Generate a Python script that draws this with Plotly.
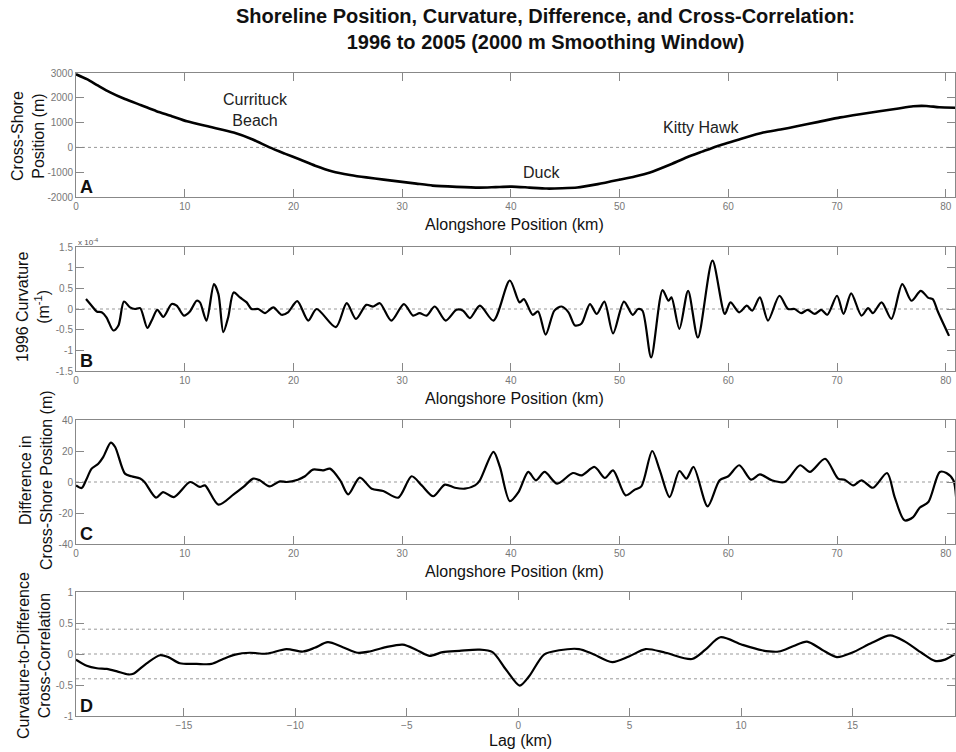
import plotly.graph_objects as go

# ---------------- data ----------------
# Panel A: cross-shore position (m) vs alongshore position (km)
a_km = [0, 1.0, 2.0, 3.1, 4.5, 6.0, 7.4, 8.8, 10.2, 12.3, 14.5, 16.2, 17.8, 19.2, 20.6, 22.0,
        23.6, 25.2, 26.7, 28.3, 29.8, 31.3, 32.8, 35.0, 37.1, 38.6, 40.1, 41.7, 43.3, 44.7,
        46.1, 48.0, 50.0, 51.4, 52.8, 54.5, 56.2, 57.6, 58.9, 61.0, 63.2, 64.8, 66.3, 68.3,
        70.3, 72.1, 73.9, 75.5, 77.0, 78.2, 79.4, 80.9]
a_pos = [2950, 2750, 2500, 2230, 1950, 1700, 1460, 1260, 1050, 830, 600, 330, 0, -250, -490, -740,
         -970, -1110, -1210, -1300, -1380, -1460, -1540, -1590, -1620, -1600, -1580, -1620, -1660, -1650,
         -1620, -1480, -1300, -1170, -1010, -720, -400, -170, 40, 320, 600, 720, 850, 1030,
         1210, 1340, 1460, 1560, 1660, 1670, 1620, 1600]

# Panel B: 1996 curvature (x 1e-4 m^-1)
b_km = [0.92, 1.44, 1.9, 2.36, 2.8, 3.43, 3.9, 4.41, 4.97, 5.43, 5.9, 6.56, 6.96, 7.48, 8.03, 8.8,
        9.26, 9.93, 10.48, 11.1, 11.4, 12.0, 12.69, 13.1, 13.55, 14.0, 14.5, 15.08, 15.7, 16.15,
        16.77, 17.38, 18.15, 18.9, 19.5, 20.35, 21.36, 22.13, 23.9, 24.9, 25.75, 26.7, 27.34,
        27.95, 29.0, 30.16, 31.0, 31.6, 32.25, 33.0, 34.0, 35.0, 35.6, 36.23, 37.15, 38.4,
        39.9, 40.8, 41.2, 42.0, 42.5, 43.2, 44.0, 44.66, 45.3, 45.9, 46.5, 47.27, 47.9, 48.6,
        49.4, 50.4, 51.2, 51.7, 52.1, 52.9, 53.95, 54.5, 54.77, 55.5, 56.3, 57.2, 58.54, 59.68,
        60.2, 61.0, 61.7, 62.2, 62.9, 63.65, 64.7, 65.5, 66.1, 66.7, 67.3, 67.95, 68.55, 69.1,
        70.0, 70.6, 71.3, 72.25, 72.86, 73.3, 74.1, 75.0, 76.0, 76.85, 77.7, 78.4, 78.8, 79.3,
        80.3]
b_curv = [0.24, 0.08, -0.06, -0.08, -0.2, -0.52, -0.4, 0.18, 0.04, 0.0, 0.02, -0.46, -0.28, -0.02,
          -0.19, 0.12, 0.08, -0.16, -0.06, 0.2, 0.16, -0.28, 0.6, 0.36, -0.56, -0.2, 0.4, 0.28,
          0.16, 0.0, 0.0, -0.1, 0.04, -0.14, -0.08, 0.19, -0.28, 0.0, -0.44, 0.14, -0.24, 0.1,
          0.06, 0.14, -0.28, 0.12, -0.16, -0.1, -0.16, 0.06, -0.28, -0.02, -0.04, -0.22, 0.08,
          -0.28, 0.69, 0.16, 0.24, -0.14, -0.06, -0.62, -0.04, 0.06, -0.08, -0.4, -0.35, 0.12,
          -0.12, 0.18, -0.59, 0.18, -0.14, 0.0, -0.04, -1.17, 0.46, 0.2, 0.28, -0.48, 0.44, -0.69,
          1.17, -0.12, 0.16, -0.08, 0.08, -0.04, 0.28, -0.28, 0.32, 0.0, 0.0, -0.1, -0.02, -0.12,
          -0.02, -0.14, 0.32, -0.12, 0.38, -0.16, 0.02, -0.1, 0.16, -0.24, 0.6, 0.2, 0.44, 0.27,
          0.24, -0.08, -0.65]

# Panel C: difference in cross-shore position (m)
c_km = [0, 0.52, 0.92, 1.44, 2.05, 2.5, 3.2, 3.6, 4.5, 5.1, 5.9, 6.3, 7.36, 8.0, 9.0, 10.5, 11.4,
        11.86, 13.1, 14.5, 15.4, 16.3, 16.9, 17.8, 18.76, 19.37, 20.4, 21.06, 21.8, 22.74, 23.36,
        24.3, 25.04, 26.1, 27.2, 28.26, 29.64, 30.87, 31.8, 32.86, 33.93, 34.85, 35.77, 36.7,
        37.15, 38.4, 38.99, 39.9, 40.7, 41.6, 42.3, 43.1, 44.26, 45.7, 46.5, 47.7, 48.65, 49.4,
        50.55, 51.4, 52.0, 53.0, 53.7, 54.6, 55.5, 56.15, 56.8, 58.1, 59.2, 60.0, 61.0, 62.1,
        62.9, 64.0, 65.2, 66.6, 67.5, 68.9, 70.1, 70.7, 71.5, 72.25, 73.3, 74.6, 75.3, 76.2,
        77.0, 77.6, 78.4, 79.45, 80.06, 80.7, 80.95]
c_diff = [-2.2, -3.9, 1.1, 8.6, 11.8, 16, 25.4, 22.6, 5.4, 3.7, 2.2, 0, -10.1, -6.5, -9.7, 0, -3.2,
          -2.2, -14.6, -8, -3.2, 2.2, 1.1, -2.8, 0.4, 0, 1.5, 3.7, 8, 7.5, 8.6,
          1.1, -8, 2.8, -4.3, -5.8, -10.1, 3.7, -2.2, -9.2, -1.7, -3.7, -4.3, -2.2,
          1.1, 19.4, 9.7, -12.3, -6.5, 6.5, 1.1, 6.5, -1.1, 5.8, 4.3, 9.7, 2.6, 7.5,
          -8.6, -4.9, -2.8, 20, 7.5, -9.7, 7.1, 2.2, 9.7, -15.7, 1.1, 3.7, 10.8, 1.5,
          4.9, 1.1, 0, 10.8, 6.5, 15, 2.2, 1.5, -2.2, 1.1, -3.7, 5.8, -9.7, -24.7,
          -22.6, -16.6, -12.9, 6.5, 5.8, 1.1, -9.7]

# Panel D: curvature-to-difference cross-correlation vs lag (km)
d_lag = [-19.84, -19.36, -18.9, -18.46, -18.0, -17.5, -17.27, -16.67, -16.07, -15.7, -15.18,
         -14.43, -13.76, -13.24, -12.7, -12.04, -11.3, -10.4, -9.66, -9.13, -8.54, -7.87, -7.2,
         -6.67, -5.93, -5.18, -4.58, -3.99, -3.39, -2.64, -1.75, -1.15, -0.55, 0.07, 0.49, 1.16,
         1.84, 2.73, 3.33, 4.22, 4.97, 5.72, 6.61, 7.8, 8.4, 9.07, 10.04, 10.94, 11.69, 12.36,
         12.96, 13.63, 14.3, 14.97, 15.87, 16.69, 17.36, 18.1, 18.7, 19.15, 19.6]
d_xcorr = [-0.09, -0.19, -0.23, -0.24, -0.28, -0.33, -0.32, -0.15, -0.02, -0.05, -0.15,
           -0.16, -0.16, -0.08, -0.01, 0.02, 0.005, 0.08, 0.04, 0.1, 0.19, 0.11, 0.02,
           0.04, 0.11, 0.15, 0.07, -0.03, 0.03, 0.05, 0.07, 0.03, -0.25, -0.51, -0.36, -0.01,
           0.06, 0.08, 0.005, -0.13, -0.04, 0.08, 0.02, -0.08, 0.07, 0.27, 0.15, 0.06, 0.04, 0.13,
           0.2, 0.07, -0.05, 0.02, 0.18, 0.3, 0.2, 0.02, -0.11, -0.09, 0.0]

a_yticks = [-2000, -1000, 0, 1000, 2000, 3000]
b_yticks = [-1.5, -1, -0.5, 0, 0.5, 1, 1.5]
c_yticks = [-40, -20, 0, 20, 40]
d_yticks = [-1, -0.5, 0, 0.5, 1]
km_ticks = [0, 10, 20, 30, 40, 50, 60, 70, 80]
lag_ticks = [-15, -10, -5, 0, 5, 10, 15]
sig_level = 0.4

# ---------------- layout geometry ----------------
W, H = 956, 752
ML, MR, MT, MB = 76, 1, 73, 36
PH = H - MT - MB
PW = W - ML - MR

def fy(py):
    return (H - MB - py) / PH

def fx(px):
    return (px - ML) / PW

panels = [(73, 197), (247, 371), (420, 544), (592, 716)]

fig = go.Figure()
line = dict(color="black", width=2.2)
fig.add_trace(go.Scatter(x=a_km, y=a_pos, mode="lines", line=dict(color="black", width=2.6, shape="spline", smoothing=0.6), xaxis="x", yaxis="y"))
fig.add_trace(go.Scatter(x=b_km, y=b_curv, mode="lines", line=dict(line, shape="spline", smoothing=0.8), xaxis="x2", yaxis="y2"))
fig.add_trace(go.Scatter(x=c_km, y=c_diff, mode="lines", line=dict(line, shape="spline", smoothing=0.8), xaxis="x3", yaxis="y3"))
fig.add_trace(go.Scatter(x=d_lag, y=d_xcorr, mode="lines", line=dict(line, shape="spline", smoothing=0.8), xaxis="x4", yaxis="y4"))

tickfont = dict(family="Liberation Sans Narrow, Liberation Sans, Arial", size=10, color="#777")
axcommon = dict(showline=True, linecolor="#888", linewidth=1, mirror="ticks", ticks="inside",
                ticklen=8, tickcolor="#888", showgrid=False, zeroline=False, tickfont=tickfont,
                automargin=False, ticklabeloverflow="allow")

def ytick_text(v):
    return [("%g" % t) for t in v]

layout = dict(width=W, height=H, plot_bgcolor="white", paper_bgcolor="white", showlegend=False,
              margin=dict(l=ML, r=MR, t=MT, b=MB))
yinfo = [(a_yticks, [-2000, 3000]), (b_yticks, [-1.5, 1.5]), (c_yticks, [-40, 40]), (d_yticks, [-1, 1])]
for i, (top, bot) in enumerate(panels):
    n = "" if i == 0 else str(i + 1)
    xr = [-19.84, 19.6] if i == 3 else [0, 80.85]
    xt = lag_ticks if i == 3 else km_ticks
    layout["xaxis" + n] = dict(axcommon, domain=[0, 1], range=xr, tickvals=xt, anchor="y" + n)
    yt, yr = yinfo[i]
    layout["yaxis" + n] = dict(axcommon, domain=[fy(bot), fy(top)], range=yr, tickvals=yt,
                               ticktext=ytick_text(yt), anchor="x" + n)
fig.update_layout(**layout)

# reference lines (zero lines and significance bounds)
dot = dict(color="#999", width=1, dash="dot")
for i in range(4):
    n = "" if i == 0 else str(i + 1)
    fig.add_shape(type="line", xref=("x" + n) + " domain", x0=0, x1=1, yref="y" + n, y0=0, y1=0, line=dot, layer="below")
for s in (sig_level, -sig_level):
    fig.add_shape(type="line", xref="x4 domain", x0=0, x1=1, yref="y4", y0=s, y1=s, line=dot, layer="below")

ann = []
font_lab = dict(family="Liberation Sans, Arial", size=16, color="#111")
C = dict(xanchor="center", yanchor="middle", showarrow=False)
# title
ann.append(dict(C, text="<b>Shoreline Position, Curvature, Difference, and Cross-Correlation:<br>1996 to 2005 (2000 m Smoothing Window)</b>",
                xref="paper", yref="paper", x=fx(545), y=fy(29),
                font=dict(family="Liberation Sans, Arial", size=20, color="#111")))
# x titles
for py in (225, 398, 571):
    ann.append(dict(C, text="Alongshore Position (km)", xref="paper", yref="paper", x=fx(514), y=fy(py),
                    font=font_lab))
ann.append(dict(C, text="Lag (km)", xref="paper", yref="paper", x=fx(520), y=fy(740), font=font_lab))
# y titles
ytitles = [("Cross-Shore<br>Position (m)", 28, 136),
           ("1996 Curvature<br>(m<sup>-1</sup>)", 33, 307),
           ("Difference in<br>Cross-Shore Position (m)", 36, 480),
           ("Curvature-to-Difference<br>Cross-Correlation", 34, 656)]
for t, px, py in ytitles:
    ann.append(dict(C, text=t, xref="paper", yref="paper", x=fx(px), y=fy(py), textangle=-90,
                    font=font_lab))
# panel letters
for L, (top, bot) in zip("ABCD", panels):
    ann.append(dict(C, text="<b>" + L + "</b>", xref="paper", yref="paper", x=fx(86), y=fy(bot - 10),
                    font=dict(family="Liberation Sans, Arial", size=18, color="#111")))
# exponent label
ann.append(dict(C, text="x 10<sup>-4</sup>", xref="paper", yref="paper", x=fx(88), y=fy(242),
                font=dict(family="Liberation Sans, Arial", size=8, color="#555")))
# place names
pfont = dict(family="Liberation Sans, Arial", size=16, color="#222")
ann.append(dict(C, text="Currituck<br>Beach", xref="x", yref="y", x=16.5, y=1500, font=pfont))
ann.append(dict(C, text="Kitty Hawk", xref="x", yref="y", x=57.5, y=800, font=pfont))
ann.append(dict(C, text="Duck", xref="x", yref="y", x=42.8, y=-1010, font=pfont))
fig.update_layout(annotations=ann)

fig.write_html("out.html", config={"displayModeBar": False},
               post_script="document.body.style.margin='0';document.body.style.overflow='hidden';")
